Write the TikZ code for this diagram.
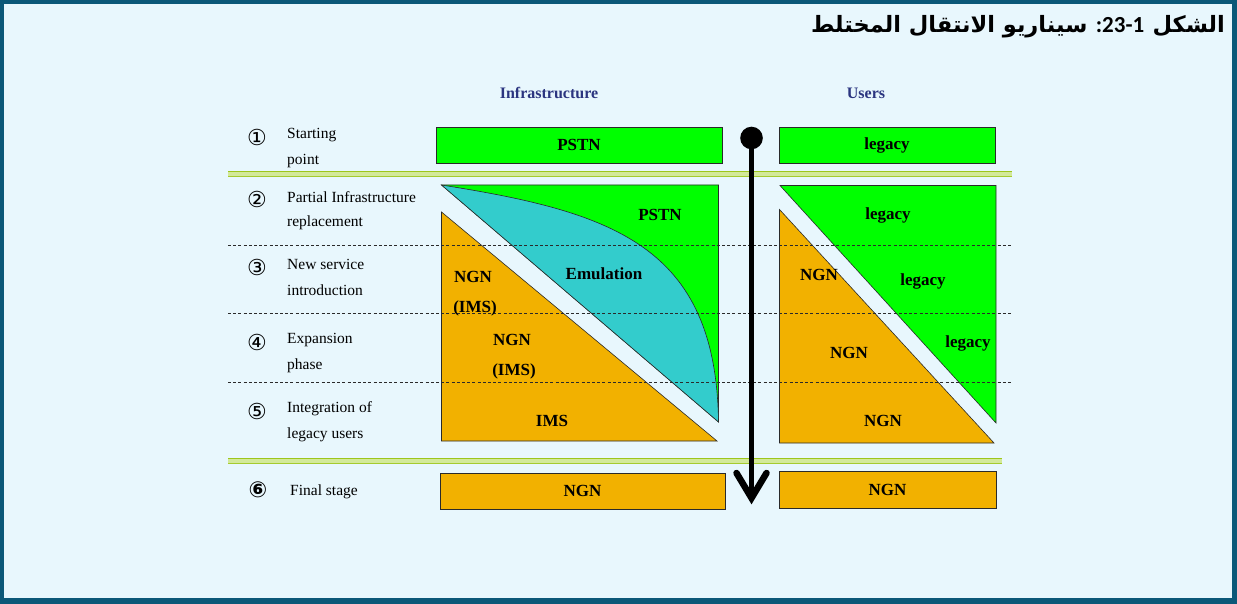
\documentclass[tikz,border=0pt]{standalone}
\usepackage{fontspec}
\usetikzlibrary{calc}
\setmainfont{Liberation Serif}
\newfontfamily\arabicfont[Script=Arabic]{DejaVu Sans}
\newfontfamily\symfont{DejaVu Sans}
\newfontfamily\numfont{Carlito}
\TeXXeTstate=1
\definecolor{framec}{HTML}{0B5878}
\definecolor{bgc}{HTML}{E8F7FD}
\definecolor{ngreen}{HTML}{00FF00}
\definecolor{norange}{HTML}{F2B100}
\definecolor{ncyan}{HTML}{33CCCC}
\definecolor{navyc}{HTML}{2B3580}
\definecolor{edgec}{HTML}{2A2A2A}
\definecolor{bandA}{HTML}{9DC61C}
\definecolor{bandB}{HTML}{D3E99A}
\begin{document}
\begin{tikzpicture}[x=1pt,y=-1pt,
  lbl/.style={font=\fontsize{15.5}{17}\selectfont, anchor=west, inner sep=0pt},
  circnum/.style={font=\symfont\fontsize{22}{22}\selectfont, inner sep=0pt},
  head/.style={font=\bfseries\fontsize{16}{18}\selectfont, text=navyc, inner sep=0pt},
  area/.style={font=\bfseries\fontsize{17}{19}\selectfont, inner sep=0pt},
  gbox/.style={draw=edgec, line width=0.8pt, fill=ngreen, inner sep=0pt,
               font=\bfseries\fontsize{17}{19}\selectfont},
  obox/.style={draw=edgec, line width=0.8pt, fill=norange, inner sep=0pt,
               font=\bfseries\fontsize{17}{19}\selectfont},
  region/.style={draw=edgec, line width=0.6pt},
  sep/.style={dashed, dash pattern=on 3pt off 2.2pt, draw=edgec, line width=0.7pt},
  ttl/.style={inner sep=0pt, anchor=base east}
]
\useasboundingbox (0,0) rectangle (1237,604);
% frame and background
\fill[framec] (0,0) rectangle (1237,604);
\fill[bgc] (4,4) rectangle (1231.5,598);

% title, set right to left in three pieces
\node[ttl] (tword) at (1225,33)
  {\arabicfont\bfseries\fontsize{22.5}{26}\selectfont\beginR الشكل\endR};
\node[ttl] (tnum) at ([xshift=-8pt]tword.base west)
  {\numfont\bfseries\fontsize{23}{26}\selectfont :23-1};
\node[ttl] (trest) at ([xshift=-8pt]tnum.base west)
  {\arabicfont\bfseries\fontsize{22.5}{26}\selectfont\beginR سيناريو الانتقال المختلط\endR};

% column headers
\node[head] (hinfra) at (549,93) {Infrastructure};
\node[head] (husers) at (866,93) {Users};

% stage 1 boxes
\node[gbox, minimum width=286pt, minimum height=36pt] (pstn1) at (579,145) {PSTN};
\node[gbox, minimum width=216pt, minimum height=36pt] (leg1) at (887,145) {legacy};

% double green bands
\foreach \yy/\xe in {174/1012, 461/1002}{
  \fill[bandB] (228,\yy-2.6) rectangle (\xe,\yy+2.6);
  \draw[bandA, line width=1.6pt] (228,\yy-2.6) -- (\xe,\yy-2.6);
  \draw[bandA!85!bandB, line width=1.6pt] (228,\yy+2.6) -- (\xe,\yy+2.6);
}

% infrastructure area
\filldraw[region, fill=norange] (441.5,212) -- (441.5,441) -- (717,441) -- cycle;
\filldraw[region, fill=ngreen] (441.5,185) -- (718.5,185) -- (718.5,422) -- cycle;
\filldraw[region, fill=ncyan] (441.5,185) .. controls (612,212) and (716,245) .. (718.5,422) -- cycle;

% users area
\filldraw[region, fill=norange] (779.5,209.5) -- (779.5,443) -- (994,443) -- cycle;
\filldraw[region, fill=ngreen] (780,185.5) -- (996,185.5) -- (996,423) -- cycle;

% stage separators
\foreach \yy in {245,313.5,382}{
  \draw[sep] (228,\yy) -- (1013,\yy);
}

% texts inside the areas
\node[area] (tpstn) at (660,215) {PSTN};
\node[area] (temu) at (604,274) {Emulation};
\node[area] (tngn1) at (473,277) {NGN};
\node[area] (tims1) at (475,308) {(IMS)};
\node[area] (tngn2) at (512,340) {NGN};
\node[area] (tims2) at (514,371) {(IMS)};
\node[area] (tims3) at (552,421) {IMS};
\node[area] (uleg1) at (888,215) {legacy};
\node[area] (uleg2) at (923,281) {legacy};
\node[area] (uleg3) at (968,343) {legacy};
\node[area] (ungn1) at (819,275) {NGN};
\node[area] (ungn2) at (849,353) {NGN};
\node[area] (ungn3) at (883,421) {NGN};

% final stage boxes
\node[obox, minimum width=285pt, minimum height=36pt] (ngnf) at (582.5,491) {NGN};
\node[obox, minimum width=217pt, minimum height=37pt] (ngnu) at (887.5,489.5) {NGN};

% stage labels
\node[circnum] (n1) at (257,137) {①};
\node[lbl] (s1a) at (287,135) {Starting};
\node[lbl] (s1b) at (287,161) {point};
\node[circnum] (n2) at (257,199) {②};
\node[lbl] (s2a) at (287,197) {Partial Infrastructure};
\node[lbl] (s2b) at (287,223) {replacement};
\node[circnum] (n3) at (257,267) {③};
\node[lbl] (s3a) at (287,264) {New service};
\node[lbl] (s3b) at (287,290) {introduction};
\node[circnum] (n4) at (257,342) {④};
\node[lbl] (s4a) at (287,340) {Expansion};
\node[lbl] (s4b) at (287,366) {phase};
\node[circnum] (n5) at (257,411) {⑤};
\node[lbl] (s5a) at (287,409) {Integration of};
\node[lbl] (s5b) at (287,435) {legacy users};
\node[circnum, font=\symfont\bfseries\fontsize{22}{22}\selectfont] (n6) at (258,490) {⑥};
\node[lbl] (s6) at (290,492) {Final stage};

% migration arrow
\node[circle, fill=black, minimum size=22.6pt, inner sep=0pt] (astart) at (751.5,138) {};
\coordinate (atip) at (751.5,498);
\draw[line width=5pt] (astart.center) -- ($(atip)+(0,-4)$);
\draw[line width=6.5pt, line cap=round, line join=miter, miter limit=3]
  ($(atip)+(-15,-25)$) -- (atip) -- ($(atip)+(15,-25)$);
\end{tikzpicture}
\end{document}
